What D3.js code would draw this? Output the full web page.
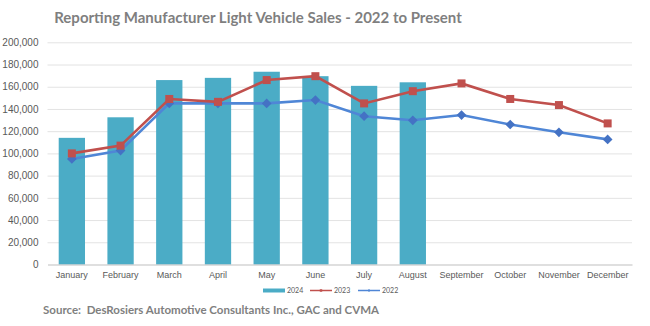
<!DOCTYPE html>
<html lang="en">
<head>
<meta charset="utf-8">
<title>Light Vehicle Sales</title>
<script src="https://cdn.jsdelivr.net/npm/d3@7"></script>
<style>
  body { margin: 0; background: #fff; }
  svg { font-family: Lato, "Open Sans", sans-serif; }
  .grid line { stroke: #e3e3e3; stroke-width: 1; }
  .grid path { display: none; }
  .tick text { fill: #595959; }
</style>
</head>
<body>
<script>
// monthly sales
var months = ["January", "February", "March", "April", "May", "June",
              "July", "August", "September", "October", "November", "December"];
var sales2024 = [114000, 132500, 166000, 168000, 173500, 169500, 160800, 164000];
var sales2023 = [100000, 107000, 149000, 146400, 166000, 169500, 145000, 156000, 163000, 149000, 143500, 127000];
var sales2022 = [95000, 102500, 145000, 145000, 145000, 148000, 133500, 129800, 134500, 126000, 119000, 112600];
var yTicks = [0, 20000, 40000, 60000, 80000, 100000, 120000, 140000, 160000, 180000, 200000];

var w = 650, h = 326;
var plotLeft = 47.5, plotRight = 632, plotTop = 42.3, plotBottom = 264.5;

var teal = "#4BACC6", red = "#C0504D", blue = "#4F86D6", blueMark = "#4472C4";

var svg = d3.select("body").append("svg")
  .attr("width", w)
  .attr("height", h);

// title
svg.append("text")
  .attr("x", 258)
  .attr("y", 23)
  .attr("text-anchor", "middle")
  .attr("fill", "#7f7f7f")
  .style("font-weight", "bold")
  .style("font-size", "15px")
  .text("Reporting Manufacturer Light Vehicle Sales - 2022 to Present");

var x = d3.scaleBand()
  .domain(months)
  .range([plotLeft, plotRight])
  .paddingInner(0.46)
  .paddingOuter(0.23);

var y = d3.scaleLinear()
  .domain([0, 200000])
  .range([plotBottom, plotTop]);

// horizontal gridlines
svg.append("g")
  .attr("class", "grid")
  .attr("transform", "translate(" + plotLeft + ",0)")
  .call(d3.axisLeft(y).tickValues(yTicks.slice(1)).tickSize(-(plotRight - plotLeft)).tickFormat(""));

// y axis labels
var gy = svg.append("g")
  .attr("transform", "translate(" + plotLeft + ",0)")
  .call(d3.axisLeft(y).tickValues(yTicks).tickSize(0).tickPadding(9).tickFormat(d3.format(",")));
gy.select(".domain").remove();
gy.selectAll("text").style("font-size", "10px");

// bars
svg.append("g").selectAll("rect")
  .data(sales2024)
  .enter().append("rect")
  .attr("x", function(d, i) { return x(months[i]); })
  .attr("y", function(d) { return y(d); })
  .attr("width", x.bandwidth())
  .attr("height", function(d) { return y(0) - y(d); })
  .attr("fill", teal);

// x axis
var gx = svg.append("g")
  .attr("transform", "translate(0," + plotBottom + ")")
  .call(d3.axisBottom(x).tickSize(0).tickPadding(7));
gx.select(".domain").attr("stroke", "#bfbfbf").attr("stroke-width", 1.2);
gx.selectAll("text").style("font-size", "9px");

var cx = function(i) { return x(months[i]) + x.bandwidth() / 2; };
var line = d3.line()
  .x(function(d, i) { return cx(i); })
  .y(function(d) { return y(d); });

// 2022 line with diamonds
svg.append("path")
  .datum(sales2022)
  .attr("d", line)
  .attr("fill", "none")
  .attr("stroke", blue)
  .attr("stroke-width", 2.6);
svg.append("g").selectAll("path")
  .data(sales2022)
  .enter().append("path")
  .attr("transform", function(d, i) { return "translate(" + cx(i) + "," + y(d) + ")"; })
  .attr("d", d3.symbol().type(d3.symbolDiamond2).size(60))
  .attr("fill", blueMark);

// 2023 line with squares
svg.append("path")
  .datum(sales2023)
  .attr("d", line)
  .attr("fill", "none")
  .attr("stroke", red)
  .attr("stroke-width", 2.6);
svg.append("g").selectAll("rect")
  .data(sales2023)
  .enter().append("rect")
  .attr("x", function(d, i) { return cx(i) - 4; })
  .attr("y", function(d) { return y(d) - 4; })
  .attr("width", 8)
  .attr("height", 8)
  .attr("fill", red);

// legend
var legend = [
  { name: "2024", color: teal, x: 263, w: 4, mark: null },
  { name: "2023", color: red, x: 310, w: 1.5, mark: "square" },
  { name: "2022", color: blue, x: 358, w: 1.5, mark: "diamond" }
];
var lg = svg.append("g").attr("transform", "translate(0,290.5)");
legend.forEach(function(d) {
  lg.append("line")
    .attr("x1", d.x).attr("x2", d.x + 22)
    .attr("stroke", d.color).attr("stroke-width", d.w);
  if (d.mark) {
    lg.append("path")
      .attr("transform", "translate(" + (d.x + 11) + ",0)")
      .attr("d", d3.symbol().type(d.mark == "square" ? d3.symbolSquare : d3.symbolDiamond2).size(6))
      .attr("fill", d.color);
  }
  lg.append("text")
    .attr("x", d.x + 24).attr("y", 2.5)
    .attr("fill", "#595959")
    .style("font-size", "7px")
    .text(d.name);
});

// source note
svg.append("text")
  .attr("x", 43)
  .attr("y", 314)
  .attr("fill", "#7f7f7f")
  .style("font-weight", "bold")
  .style("font-size", "11.5px")
  .attr("xml:space", "preserve")
  .text("Source:  DesRosiers Automotive Consultants Inc., GAC and CVMA");
</script>
</body>
</html>
